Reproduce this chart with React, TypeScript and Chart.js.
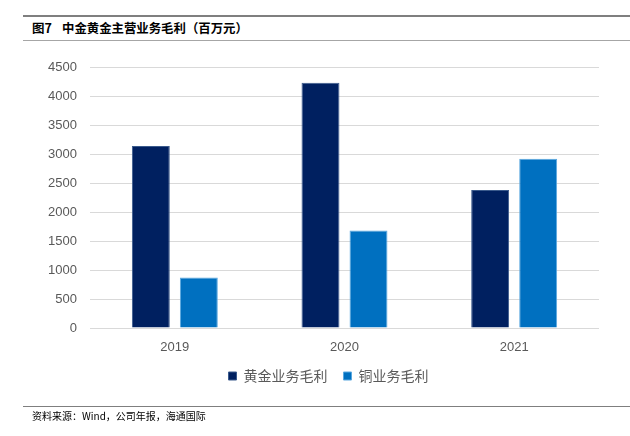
import React, { useEffect, useRef } from "react";
import { Chart, registerables } from "chart.js";

Chart.register(...registerables);

const categories = ["2019", "2020", "2021"];
const goldProfit = [3140, 4230, 2380];
const copperProfit = [870, 1680, 2920];
const seriesNames = ["黄金业务毛利", "铜业务毛利"];
const figureLabel = "图7";
const titleText = "中金黄金主营业务毛利（百万元）";
const sourceText = "资料来源：Wind，公司年报，海通国际";

const legendShift = {
  id: "legendShift",
  afterLayout(chart: any) {
    const lg = chart.legend;
    if (lg) {
      lg.left += 29;
      lg.right += 29;
    }
  },
};

export default function App() {
  const ref = useRef<HTMLCanvasElement | null>(null);

  useEffect(() => {
    const canvas = ref.current;
    if (!canvas) return;
    const chart = new Chart(canvas, {
      type: "bar",
      data: {
        labels: categories,
        datasets: [
          {
            label: seriesNames[0],
            data: goldProfit,
            backgroundColor: "#002060",
            borderColor: "#3a5a8c",
            borderWidth: 1,
          },
          {
            label: seriesNames[1],
            data: copperProfit,
            backgroundColor: "#0070C0",
            borderColor: "#5aa8e0",
            borderWidth: 1,
          },
        ],
      },
      plugins: [legendShift],
      options: {
        responsive: false,
        animation: false,
        maintainAspectRatio: false,
        layout: { padding: { left: 0, right: 31, top: 67, bottom: 43 } },
        datasets: {
          bar: { categoryPercentage: 0.566, barPercentage: 0.79 },
        },
        plugins: {
          legend: {
            position: "bottom",
            labels: {
              boxWidth: 8,
              boxHeight: 8,
              padding: 16,
              color: "#595959",
              font: { family: "'Noto Sans CJK SC'", size: 14 },
            },
          },
          tooltip: { enabled: false },
          title: { display: false },
        },
        scales: {
          x: {
            grid: { display: false, drawTicks: false },
            border: { display: false },
            afterFit: (s: any) => {
              s.height = 25;
            },
            ticks: {
              color: "#595959",
              padding: 12,
              font: { family: "'Liberation Sans'", size: 13 },
            },
          },
          y: {
            min: 0,
            max: 4500,
            afterFit: (s: any) => {
              s.width = 90;
            },
            ticks: {
              stepSize: 500,
              color: "#595959",
              padding: 13,
              font: { family: "'Liberation Sans'", size: 13 },
              callback: (v: any) => String(v),
            },
            grid: { color: "#d9d9d9", drawTicks: false, lineWidth: 1 },
            border: { display: false },
          },
        },
      },
    });
    return () => chart.destroy();
  }, []);

  return (
    <div
      style={{
        position: "fixed",
        left: 0,
        top: 0,
        width: 630,
        height: 436,
        background: "#fff",
        fontFamily: "'Noto Sans CJK SC', sans-serif",
      }}
    >
      <div
        style={{
          position: "absolute",
          left: 23,
          top: 15,
          width: 607,
          height: 0,
          borderTop: "2px solid #7f7f7f",
        }}
      />
      <div
        style={{
          position: "absolute",
          left: 32,
          top: 19,
          fontSize: 12.5,
          fontWeight: 700,
          color: "#000",
          lineHeight: "18px",
          whiteSpace: "pre",
        }}
      >
        {figureLabel}
      </div>
      <div
        style={{
          position: "absolute",
          left: 62,
          top: 19,
          fontSize: 12.4,
          fontWeight: 700,
          color: "#000",
          lineHeight: "18px",
          whiteSpace: "pre",
        }}
      >
        {titleText}
      </div>
      <div
        style={{
          position: "absolute",
          left: 23,
          top: 40,
          width: 607,
          height: 0,
          borderTop: "1px solid #a6a6a6",
        }}
      />
      <canvas
        ref={ref}
        width={630}
        height={436}
        style={{ position: "absolute", left: 0, top: 0 }}
      />
      <div
        style={{
          position: "absolute",
          left: 23,
          top: 406,
          width: 607,
          height: 0,
          borderTop: "1px solid #7f7f7f",
        }}
      />
      <div
        style={{
          position: "absolute",
          left: 32,
          top: 408,
          fontSize: 10,
          color: "#000",
          lineHeight: "15px",
          whiteSpace: "pre",
        }}
      >
        {sourceText}
      </div>
    </div>
  );
}
